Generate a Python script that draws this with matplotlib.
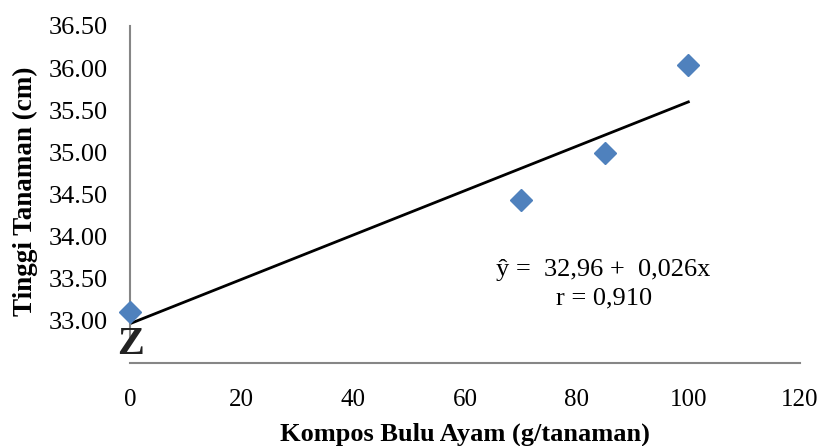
import matplotlib.pyplot as plt
import numpy as np

# data
kompos = [0, 70, 85, 100]
tinggi = [33.11, 34.44, 34.99, 36.04]
xticks = [0, 20, 40, 60, 80, 100, 120]
yticks = [33.0, 33.5, 34.0, 34.5, 35.0, 35.5, 36.0, 36.5]

plt.rcParams['font.family'] = ['Liberation Serif', 'DejaVu Serif']

W, H = 825, 446
fig = plt.figure(figsize=(W / 100, H / 100), dpi=100)
ax = fig.add_axes([130 / W, (H - 363) / H, 670 / W, 337 / H])

# trend line from least squares fit
slope, icpt = np.polyfit(kompos, tinggi, 1)
xl = np.array([0, 100])
ax.plot(xl, icpt + slope * xl, color='black', lw=2, zorder=2)
ax.plot(kompos, tinggi, 'D', color='#4F81BD', ms=11.5, mec='#4F81BD', zorder=3, clip_on=False)

ax.set_xlim(0, 120)
ax.set_ylim(32.5, 36.5)
ax.set_xticks(xticks)
ax.set_yticks(yticks)
ax.set_xticklabels([str(v) for v in xticks])
ax.set_yticklabels(['%.2f' % v for v in yticks])
ax.tick_params(length=0)
ax.tick_params(axis='y', labelsize=19, pad=16)
ax.tick_params(axis='x', labelsize=18, pad=19)

for s in ['top', 'right']:
    ax.spines[s].set_visible(False)
for s in ['left', 'bottom']:
    ax.spines[s].set_color('#868686')
    ax.spines[s].set_linewidth(1.5)
ax.spines['left'].set_bounds(32.78, 36.5)

# axis break mark
ax.text(-13 / 670, 0.0, 'Z', transform=ax.transAxes, fontsize=29, fontweight='bold',
        ha='left', va='bottom', color='#222222', zorder=4)

fig.text(465 / W, (H - 441) / H, 'Kompos Bulu Ayam (g/tanaman)', fontsize=19,
         fontweight='bold', ha='center', va='baseline')
fig.text(25 / W, (H - 191) / H, 'Tinggi Tanaman (cm)', fontsize=19.5,
         fontweight='bold', ha='center', va='center', rotation=90)

fig.text(603 / W, (H - 270) / H, 'ŷ =  32,96 +  0,026x', fontsize=19,
         ha='center', va='center')
fig.text(604 / W, (H - 298) / H, 'r = 0,910', fontsize=19, ha='center', va='center')

fig.savefig('out.png', dpi=100)
